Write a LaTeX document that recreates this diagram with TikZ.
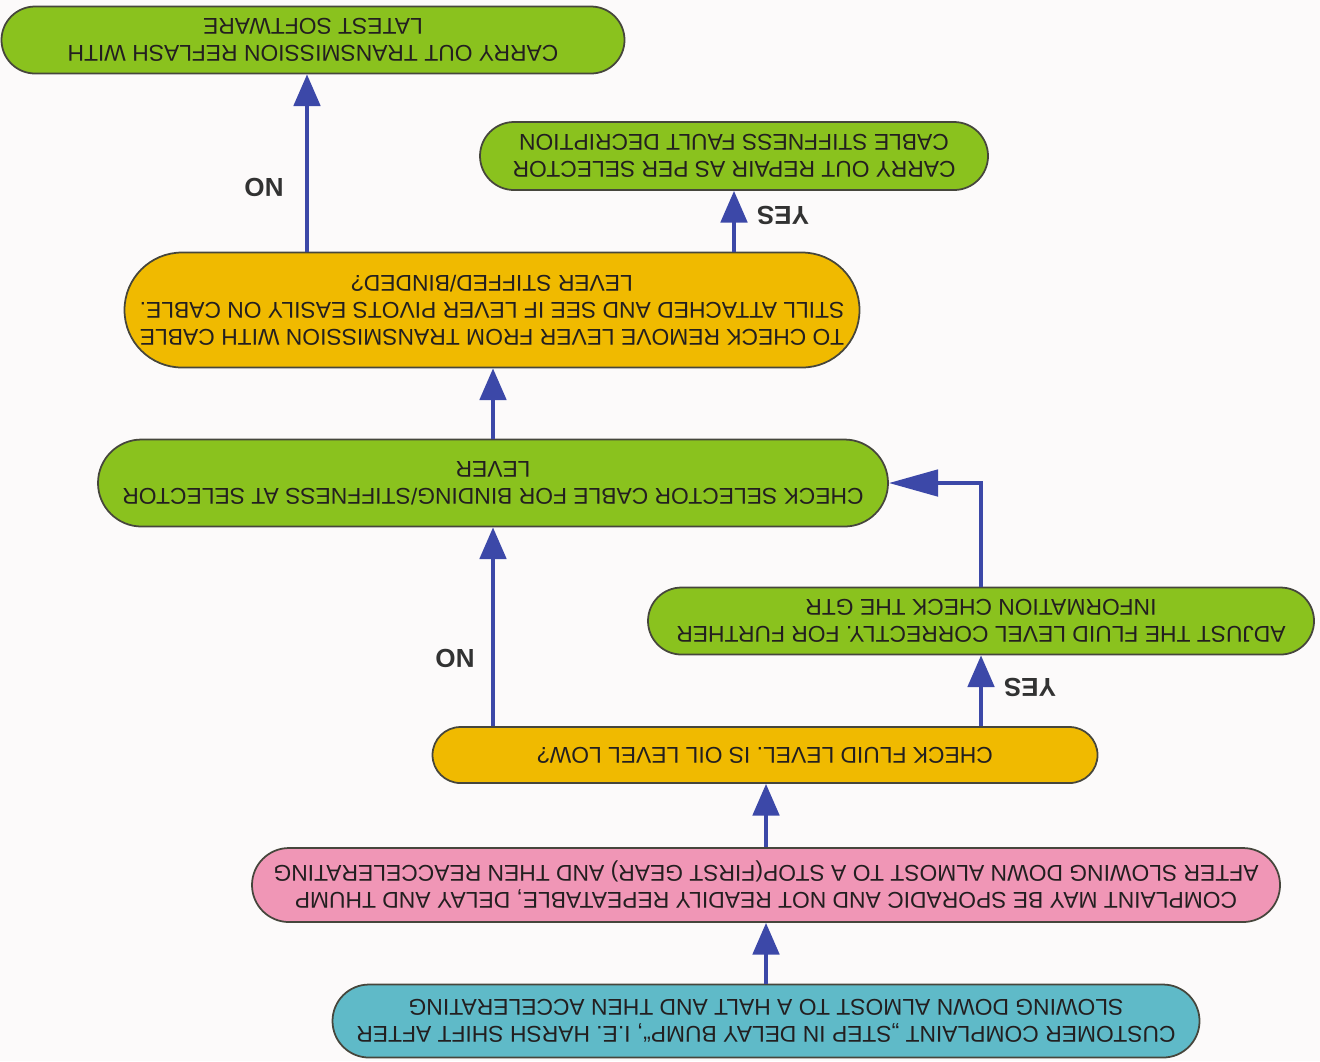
\documentclass[tikz,border=0pt]{standalone}
\usepackage{fontspec}
\setmainfont{Liberation Sans}
\usetikzlibrary{arrows.meta}
\definecolor{paper}{RGB}{252,250,250}
\definecolor{ink}{RGB}{35,31,32}
\definecolor{boxline}{RGB}{70,70,60}
\definecolor{cblue}{RGB}{95,186,200}
\definecolor{cpink}{RGB}{240,150,182}
\definecolor{cyellow}{RGB}{240,186,0}
\definecolor{cgreen}{RGB}{138,194,30}
\definecolor{arrowblue}{RGB}{60,72,168}
\definecolor{labelgray}{RGB}{50,50,50}
\tikzstyle{pill} = [draw=boxline, line width=0.5pt, inner sep=0pt, align=center, text=ink, font=\fontsize{6.5}{7.7}\selectfont]
\tikzstyle{arrow} = [line width=1.1pt, draw=arrowblue, -{Triangle[width=7.5pt,length=9pt]}]
\tikzstyle{answer} = [text=labelgray, font=\fontsize{7.4}{8}\selectfont\bfseries]

\begin{document}
\begin{tikzpicture}
\fill[paper] (0,0) rectangle (13.2,-10.61);
\useasboundingbox (0,0) rectangle (13.2,-10.61);
% the page is printed upside down
\begin{scope}[rotate around={180:(6.6,-5.305)}, transform shape]
	\node [pill, fill=cblue, minimum width=8.67cm, minimum height=0.73cm, rounded corners=0.365cm] (complaint) at (5.54,-0.40) {CUSTOMER COMPLAINT „STEP IN DELAY BUMP“, I.E. HARSH SHIFT AFTER\\SLOWING DOWN ALMOST TO A HALT AND THEN ACCELERATING};
	\node [pill, fill=cpink, minimum width=10.28cm, minimum height=0.74cm, rounded corners=0.37cm] (symptom) at (5.54,-1.76) {COMPLAINT MAY BE SPORADIC AND NOT READILY REPEATABLE, DELAY AND THUMP\\AFTER SLOWING DOWN ALMOST TO A STOP(FIRST GEAR) AND THEN REACCELERATING};
	\node [pill, fill=cyellow, minimum width=6.65cm, minimum height=0.56cm, rounded corners=0.28cm] (fluid) at (5.55,-3.06) {CHECK FLUID LEVEL. IS OIL LEVEL LOW?};
	\node [pill, fill=cgreen, minimum width=6.66cm, minimum height=0.67cm, rounded corners=0.335cm] (adjust) at (3.39,-4.40) {ADJUST THE FLUID LEVEL CORRECTLY. FOR FURTHER\\INFORMATION CHECK THE GTR};
	\node [pill, fill=cgreen, minimum width=7.90cm, minimum height=0.87cm, rounded corners=0.435cm] (selector) at (8.27,-5.78) {CHECK SELECTOR CABLE FOR BINDING/STIFFNESS AT SELECTOR\\LEVER};
	\node [pill, fill=cyellow, minimum width=7.35cm, minimum height=1.15cm, rounded corners=0.575cm] (lever) at (8.28,-7.51) {TO CHECK REMOVE LEVER FROM TRANSMISSION WITH CABLE\\STILL ATTACHED AND SEE IF LEVER PIVOTS EASILY ON CABLE.\\LEVER STIFFED/BINDED?};
	\node [pill, fill=cgreen, minimum width=5.08cm, minimum height=0.68cm, rounded corners=0.34cm] (repair) at (5.86,-9.05) {CARRY OUT REPAIR AS PER SELECTOR\\CABLE STIFFNESS FAULT DECRIPTION};
	\node [pill, fill=cgreen, minimum width=6.23cm, minimum height=0.67cm, rounded corners=0.335cm] (reflash) at (10.07,-10.21) {CARRY OUT TRANSMISSION REFLASH WITH\\LATEST SOFTWARE};

	\draw [arrow] (complaint) -- (symptom);
	\draw [arrow] (symptom.south) -- (symptom.south |- fluid.north);
	\draw [arrow] (fluid.south -| adjust) -- (adjust.north);
	\draw [arrow] (fluid.south -| selector) -- (selector.north);
	\draw [arrow, -{Triangle[width=7.5pt,length=14pt]}] (adjust.south) |- (selector.west);
	\draw [arrow] (selector.south) -- (selector.south |- lever.north);
	\draw [arrow] (lever.south -| repair) -- (repair.north);
	\draw [arrow] ([xshift=0.06cm]lever.south -| reflash) -- ([xshift=0.06cm]reflash.north);

	\node [answer] (yesfluid) at (2.90,-3.74) {YES};
	\node [answer] (nofluid) at (8.65,-4.03) {NO};
	\node [answer] (yeslever) at (5.37,-8.46) {YES};
	\node [answer] (nolever) at (10.56,-8.74) {NO};
\end{scope}
\end{tikzpicture}
\end{document}
